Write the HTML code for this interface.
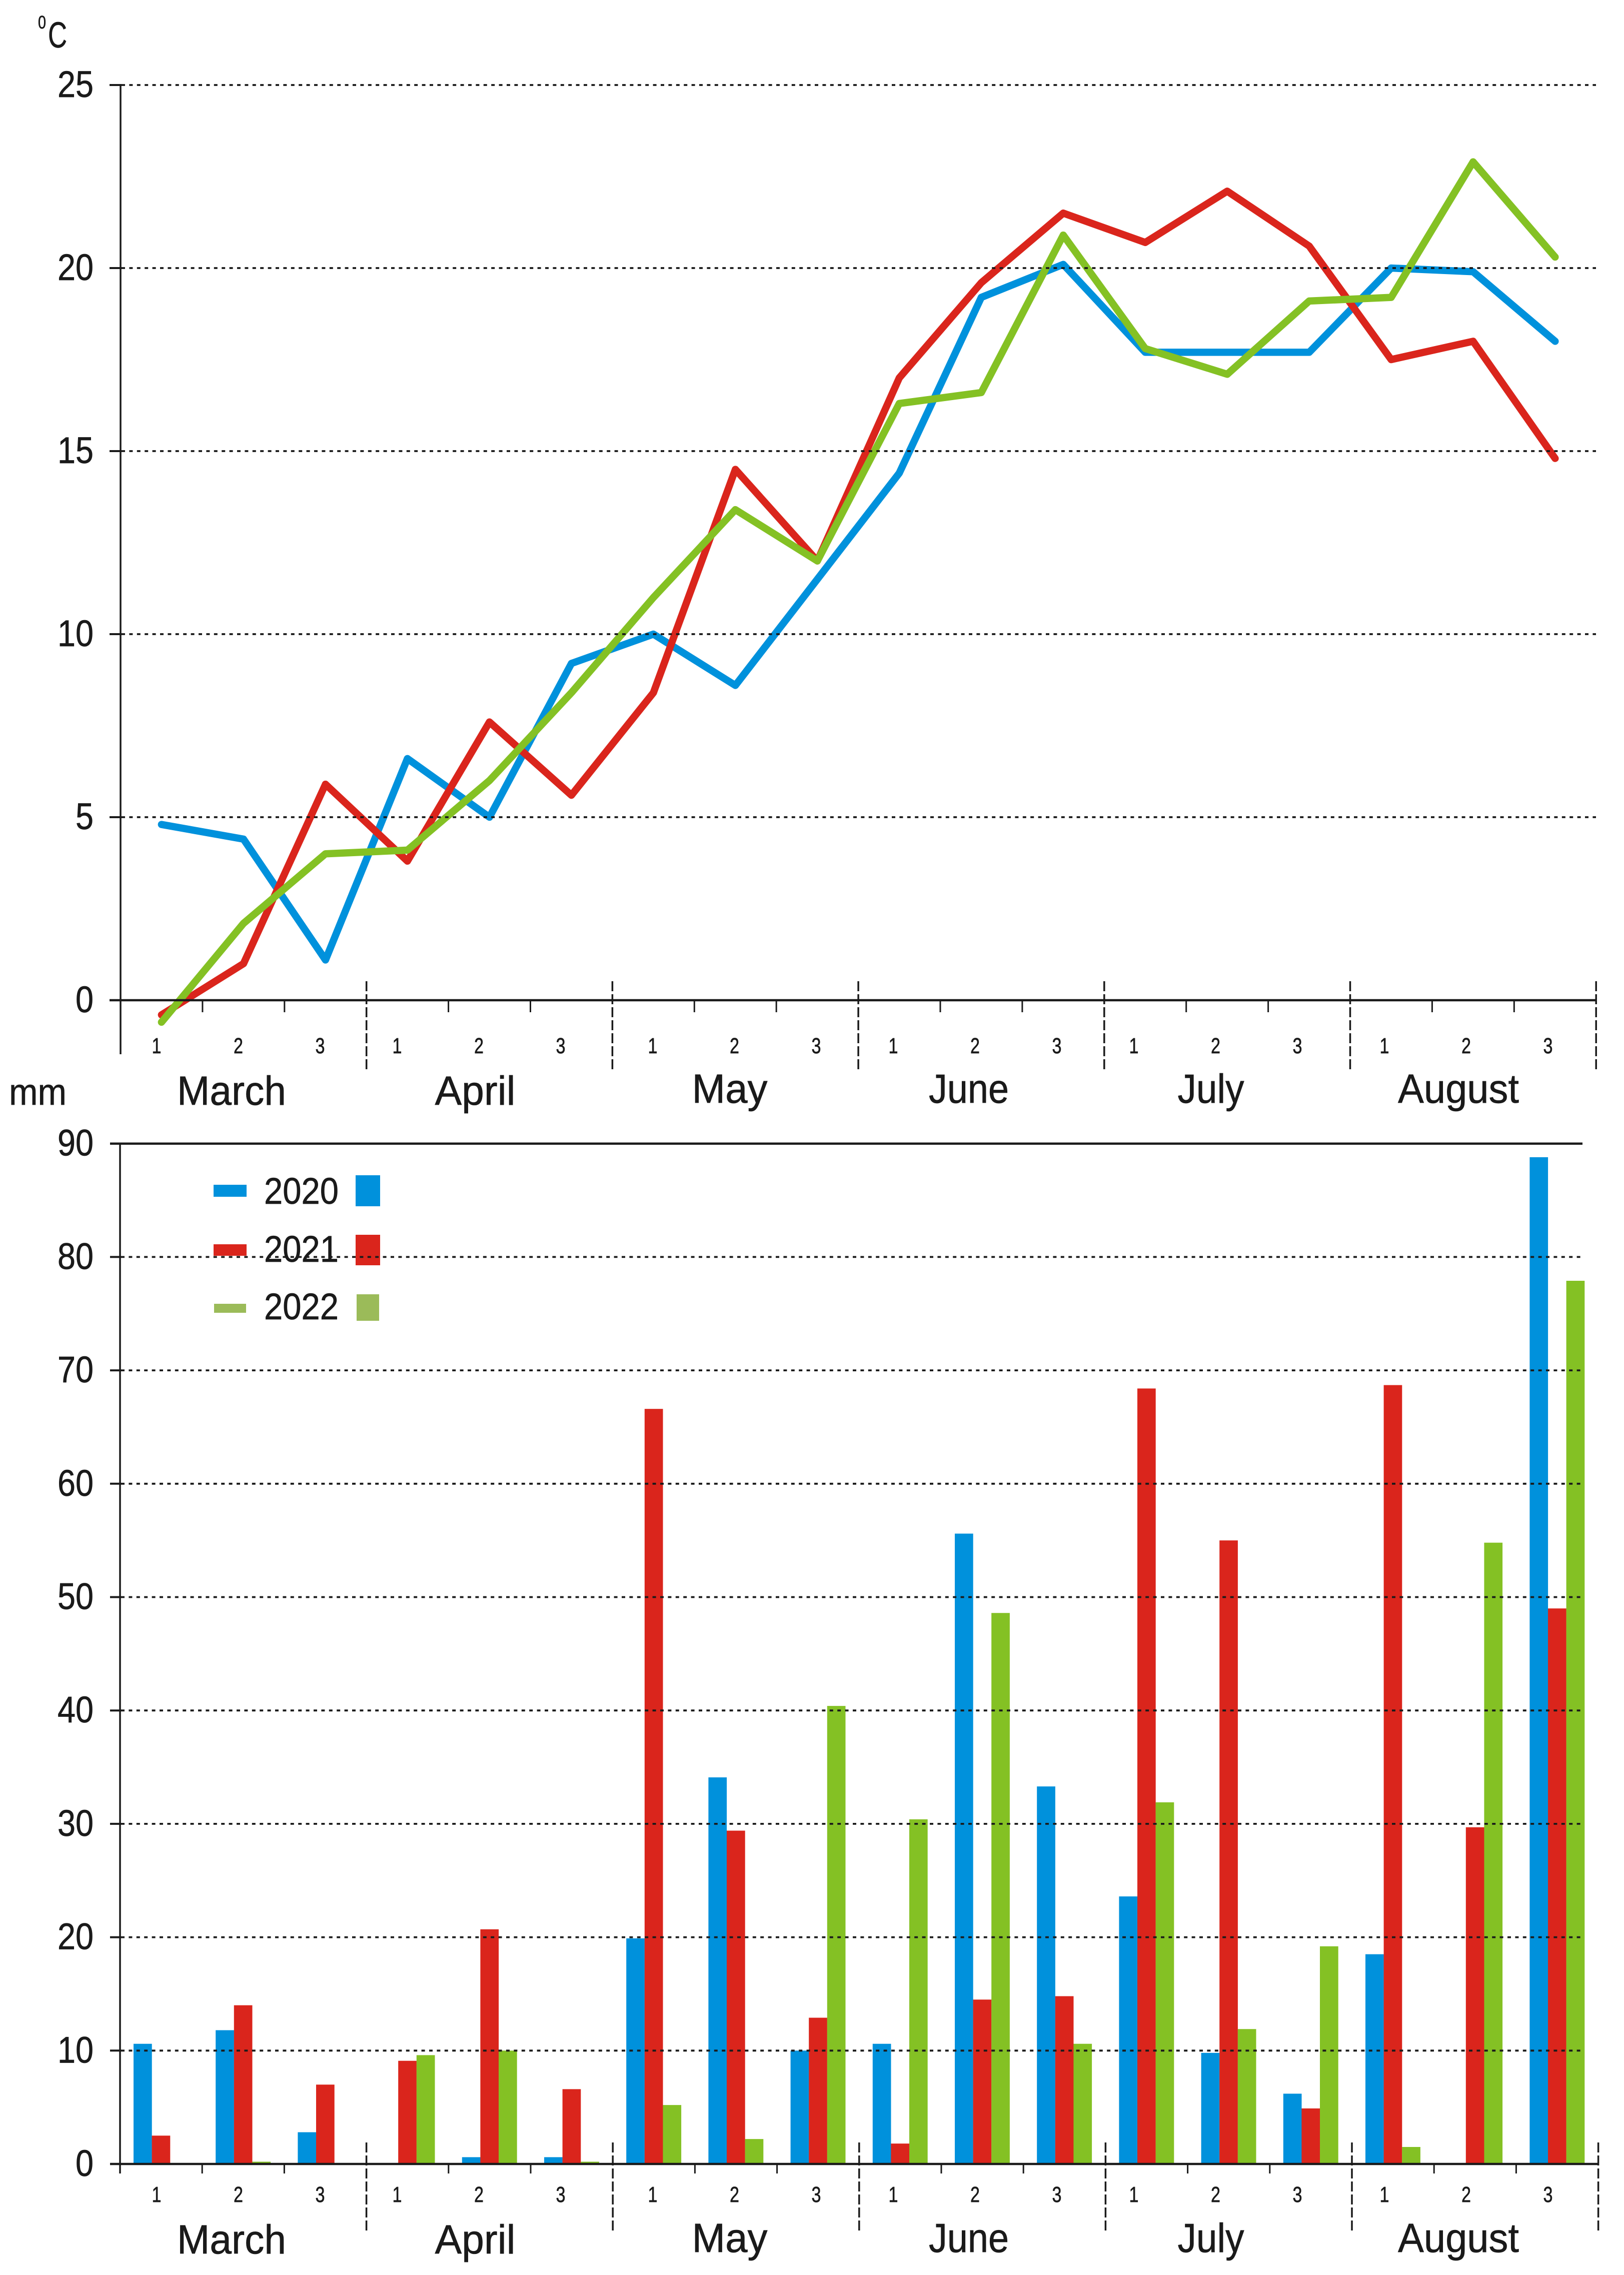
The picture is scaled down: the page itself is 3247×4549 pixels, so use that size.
<!DOCTYPE html>
<html lang="en">
<head>
<meta charset="utf-8">
<title>Temperature and precipitation by decade, March to August</title>
<style>
html,body{margin:0;padding:0;background:#fff;width:3247px;height:4549px;overflow:hidden}
svg{display:block}
text{font-family:"Liberation Sans",sans-serif;fill:#1a1a1a;stroke:#1a1a1a;stroke-width:0.7px}
.dec{font-size:44px;text-anchor:middle}
.mon{font-size:82px;text-anchor:middle}
.leg{font-size:74px}
</style>
</head>
<body>
<svg id="chart" xmlns="http://www.w3.org/2000/svg" width="3247" height="4549" viewBox="0 0 3247 4549">
  <g id="bars"></g>
  <g id="legend">
    <rect x="427" y="2369" width="66" height="24" fill="#0091dc"/>
    <text class="leg" x="528" y="2407" textLength="149" lengthAdjust="spacingAndGlyphs">2020</text>
    <rect x="711" y="2350" width="49" height="62" fill="#0091dc"/>
    <rect x="427" y="2488" width="66" height="23" fill="#da251c"/>
    <text class="leg" x="528" y="2523" textLength="149" lengthAdjust="spacingAndGlyphs">2021</text>
    <rect x="711" y="2469" width="49" height="61" fill="#da251c"/>
    <rect x="428" y="2607" width="64" height="18" fill="#9bbb59"/>
    <text class="leg" x="528" y="2638" textLength="149" lengthAdjust="spacingAndGlyphs">2022</text>
    <rect x="713" y="2588" width="45" height="53" fill="#9bbb59"/>
  </g>
  <g id="lines"></g>
  <g id="axes"></g>

  <text x="84" y="57" font-size="36" text-anchor="middle" textLength="16" lengthAdjust="spacingAndGlyphs">0</text>
  <text x="96" y="95" font-size="72" textLength="38" lengthAdjust="spacingAndGlyphs">C</text>
  <text x="18" y="2209" font-size="74" textLength="115" lengthAdjust="spacingAndGlyphs">mm</text>

  <g>
    <text class="mon" x="463" y="2209" textLength="218" lengthAdjust="spacingAndGlyphs">March</text>
    <text class="mon" x="950" y="2209" textLength="161" lengthAdjust="spacingAndGlyphs">April</text>
    <text class="mon" x="1459" y="2205" textLength="151" lengthAdjust="spacingAndGlyphs">May</text>
    <text class="mon" x="1937" y="2205" textLength="160" lengthAdjust="spacingAndGlyphs">June</text>
    <text class="mon" x="2421" y="2205" textLength="133" lengthAdjust="spacingAndGlyphs">July</text>
    <text class="mon" x="2916" y="2205" textLength="242" lengthAdjust="spacingAndGlyphs">August</text>
  </g>
  <g>
    <text class="mon" x="463" y="4506" textLength="218" lengthAdjust="spacingAndGlyphs">March</text>
    <text class="mon" x="950" y="4506" textLength="161" lengthAdjust="spacingAndGlyphs">April</text>
    <text class="mon" x="1459" y="4503" textLength="151" lengthAdjust="spacingAndGlyphs">May</text>
    <text class="mon" x="1937" y="4503" textLength="160" lengthAdjust="spacingAndGlyphs">June</text>
    <text class="mon" x="2421" y="4503" textLength="133" lengthAdjust="spacingAndGlyphs">July</text>
    <text class="mon" x="2916" y="4503" textLength="242" lengthAdjust="spacingAndGlyphs">August</text>
  </g>
  <g id="decLabels"></g>
</svg>
<script>
// Chart data
const decadeNames = ['1','2','3'];
const tempTicks = [0,5,10,15,20,25];
const rainTicks = [0,10,20,30,40,50,60,70,80,90];
const temp2020 = [4.8,4.4,1.1,6.6,5.0,9.2,10.0,8.6,11.5,14.4,19.2,20.1,17.7,17.7,17.7,20.0,19.9,18.0];
const temp2021 = [-0.4,1.0,5.9,3.8,7.6,5.6,8.4,14.5,12.0,17.0,19.6,21.5,20.7,22.1,20.6,17.5,18.0,14.8];
const temp2022 = [-0.6,2.1,4.0,4.1,6.0,8.4,11.0,13.4,12.0,16.3,16.6,20.9,17.8,17.1,19.1,19.2,22.9,20.3];
const rain2020 = [10.6,11.8,2.8,0,0.6,0.6,19.9,34.1,10.0,10.6,55.6,33.3,23.6,9.8,6.2,18.5,0,88.8];
const rain2021 = [2.5,14.0,7.0,9.1,20.7,6.6,66.6,29.4,12.9,1.8,14.5,14.8,68.4,55.0,4.9,68.7,29.7,49.0];
const rain2022 = [0,0.2,0,9.6,10.0,0.2,5.2,2.2,40.4,30.4,48.6,10.6,31.9,11.9,19.2,1.5,54.8,77.9];

const NS = 'http://www.w3.org/2000/svg';
const BLUE = '#0091dc', RED = '#da251c', GREEN = '#84c124', INK = '#1a1a1a';
const DOTS = '7 8.4';

// Axis functions
const topY = v => 2000 - v * 73.2;
const rainY = v => 4327 - v * 22.67;
const topTick = i => 241 + i * 163.9;
const rainTick = i => 240 + i * 164.2;
const pointX = i => topTick(i + 0.5);
const barX = (i, s) => 267 + i * 164.2 + s * 36.6;

function node(tag, attrs, parent) {
  const el = document.createElementNS(NS, tag);
  for (const k in attrs) el.setAttribute(k, attrs[k]);
  parent.appendChild(el);
  return el;
}
function hline(x1, x2, y, w, dash, parent, name) {
  const el = node('line', {x1:x1, x2:x2, y1:y, y2:y, stroke:INK, 'stroke-width':w}, parent);
  if (dash) el.setAttribute('stroke-dasharray', dash);
  
  
}
function vline(x, y1, y2, w, dash, parent, name) {
  const el = node('line', {x1:x, x2:x, y1:y1, y2:y2, stroke:INK, 'stroke-width':w}, parent);
  if (dash) el.setAttribute('stroke-dasharray', dash);
  
  
}
function yLabel(v, y, parent, name) {
  const s = String(v);
  const el = node('text', {x:187, y:y + 24, 'font-size':74, 'text-anchor':'end', textLength:s.length * 36, lengthAdjust:'spacingAndGlyphs'}, parent);
  el.textContent = s;
  
  
}

const axes = document.getElementById('axes');

// Temperature panel axes
tempTicks.forEach(v => {
  if (v > 0) hline(243, 3191, topY(v), 3.8, DOTS, axes, 'temp-gridline-' + v);
  hline(219, 243, topY(v), 4, null, axes, 'temp-y-tick-' + v);
  yLabel(v, topY(v), document.getElementById('decLabels'), 'temp-y-label-' + v);
});
vline(241, 170, 2108, 3.5, null, axes, 'temp-y-axis');
hline(219, 3191, topY(0), 4.5, null, axes, 'temp-x-axis');
for (let i = 1; i <= 18; i++) {
  if (i % 3 === 0) vline(topTick(i), 1962, 2139, 3.5, '20 6', axes, 'temp-month-divider-' + i / 3);
  else vline(topTick(i), 2000, 2024, 3, null, axes, 'temp-decade-tick-' + i);
}

// Precipitation panel axes
rainTicks.forEach(v => {
  if (v > 0 && v < 90) hline(242, 3164, rainY(v), 3.8, DOTS, axes, 'rain-gridline-' + v);
  hline(220, 242, rainY(v), 4, null, axes, 'rain-y-tick-' + v);
  yLabel(v, rainY(v), document.getElementById('decLabels'), 'rain-y-label-' + v);
});
hline(220, 3164, rainY(90), 4.5, null, axes, 'rain-top-line');
vline(240, 2287, 4346, 3.5, null, axes, 'rain-y-axis');
hline(220, 3195, rainY(0), 4.5, null, axes, 'rain-x-axis');
for (let i = 1; i <= 18; i++) {
  if (i % 3 === 0) vline(rainTick(i), 4284, 4462, 3.5, '20 6', axes, 'rain-month-divider-' + i / 3);
  else vline(rainTick(i), 4327, 4346, 3, null, axes, 'rain-decade-tick-' + i);
}

// Bars
const barsG = document.getElementById('bars');
[[rain2020, BLUE, '2020'], [rain2021, RED, '2021'], [rain2022, GREEN, '2022']].forEach((row, s) => {
  row[0].forEach((v, i) => {
    if (v <= 0) return;
    const bar = node('rect', {x:barX(i, s), y:rainY(v), width:36.7, height:rainY(0) - rainY(v), fill:row[1]}, barsG);
    
    
  });
});

// Temperature lines
const linesG = document.getElementById('lines');
[[temp2020, BLUE, '2020'], [temp2021, RED, '2021'], [temp2022, GREEN, '2022']].forEach(row => {
  const pts = row[0].map((v, i) => pointX(i).toFixed(1) + ',' + topY(v).toFixed(1)).join(' ');
  const line = node('polyline', {points:pts, fill:'none', stroke:row[1], 'stroke-width':14.5, 'stroke-linejoin':'round', 'stroke-linecap':'round'}, linesG);
  
  
});

// Decade labels: horizontal offsets within each month as drawn in the figure
const monthLabelStarts = [313, 794, 1305, 1786, 2267, 2768];
const labelG = document.getElementById('decLabels');
[2106, 4403].forEach((baseline, p) => {
  monthLabelStarts.forEach((start, m) => {
    decadeNames.forEach((d, k) => {
      const t = node('text', {'class':'dec', x:start + k * 163.5, y:baseline, textLength:19, lengthAdjust:'spacingAndGlyphs'}, labelG);
      t.textContent = d;
      
      
    });
  });
});
</script>
</body>
</html>
